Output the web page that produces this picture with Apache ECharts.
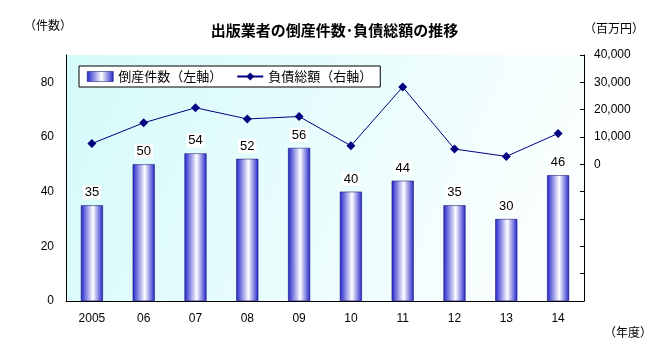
<!DOCTYPE html>
<html>
<head>
<meta charset="utf-8">
<script src="https://cdn.jsdelivr.net/npm/echarts@6/dist/echarts.min.js"></script>
<style>
  html, body { margin: 0; padding: 0; background: #fff; }
  #chart { width: 669px; height: 353px; }
</style>
</head>
<body>
<div id="chart"></div>
<script>
const years = ['2005', '06', '07', '08', '09', '10', '11', '12', '13', '14'];
const bankruptcies = [35, 50, 54, 52, 56, 40, 44, 35, 30, 46];
const debtTotal = [7600, 15200, 20700, 16600, 17500, 6800, 28300, 5600, 2900, 11300];

const font = 'Liberation Sans, Noto Sans CJK JP, sans-serif';
const jpFont = 'Noto Sans CJK JP, sans-serif';

const barGradient = new echarts.graphic.LinearGradient(0, 0, 1, 0, [
  { offset: 0, color: '#2424cc' },
  { offset: 0.55, color: '#ffffff' },
  { offset: 1, color: '#2424cc' }
]);

const chart = echarts.init(document.getElementById('chart'));
chart.setOption({
  animation: false,
  textStyle: { fontFamily: font, color: '#000' },
  title: {
    text: '出版業者の倒産件数･負債総額の推移',
    left: 'center',
    top: 18,
    textStyle: { fontFamily: jpFont, fontSize: 15, fontWeight: 'bold', color: '#000' }
  },
  graphic: [
    { type: 'text', left: 24, top: 19, style: { text: '（件数）', font: '12px ' + jpFont, fill: '#000' } },
    { type: 'text', left: 584, top: 22, style: { text: '（百万円）', font: '12px ' + jpFont, fill: '#000' } },
    { type: 'text', left: 604, top: 326, style: { text: '（年度）', font: '12px ' + jpFont, fill: '#000' } }
  ],
  legend: {
    left: 79,
    top: 66,
    backgroundColor: '#fff',
    borderColor: '#000',
    borderWidth: 1,
    borderRadius: 0,
    padding: [4, 8, 4, 8],
    itemGap: 14,
    itemWidth: 26,
    itemHeight: 10,
    textStyle: { fontFamily: jpFont, fontSize: 13, color: '#000' },
    data: [
      { name: '倒産件数（左軸）', icon: 'rect', itemStyle: { color: barGradient, borderColor: '#000060', borderWidth: 0.5 } },
      { name: '負債総額（右軸）' }
    ]
  },
  grid: {
    left: 66, right: 85, top: 55, bottom: 52,
    show: true,
    borderWidth: 0,
    backgroundColor: new echarts.graphic.LinearGradient(0, 0, 1, 1, [
      { offset: 0, color: '#d4fafa' },
      { offset: 1, color: '#ffffff' }
    ])
  },
  xAxis: {
    type: 'category',
    data: years,
    axisLine: { lineStyle: { color: '#000' } },
    axisTick: { inside: true, length: 4, lineStyle: { color: '#000' } },
    axisLabel: { fontSize: 12, color: '#000', margin: 12 }
  },
  yAxis: [
    {
      type: 'value',
      min: 0, max: 90, interval: 20,
      splitLine: { show: false },
      axisLine: { show: true, lineStyle: { color: '#000' } },
      axisTick: { show: false },
      axisLabel: {
        fontSize: 12, color: '#000', margin: 12,
        formatter: v => (v % 20 === 0 && v <= 80) ? v : ''
      }
    },
    {
      type: 'value',
      min: -50000, max: 40000, interval: 10000,
      position: 'right',
      splitLine: { show: false },
      axisLine: { show: true, lineStyle: { color: '#000' } },
      axisTick: { show: true, inside: true, length: 4, lineStyle: { color: '#000' } },
      axisLabel: {
        fontSize: 12, color: '#000', margin: 10,
        formatter: v => v >= 0 ? v.toLocaleString('en-US') : ''
      }
    }
  ],
  series: [
    {
      name: '倒産件数（左軸）',
      type: 'bar',
      yAxisIndex: 0,
      data: bankruptcies,
      barWidth: 22,
      itemStyle: { color: barGradient, borderColor: '#000060', borderWidth: 0.5 },
      label: {
        show: true,
        position: 'top',
        distance: 6,
        fontSize: 13,
        color: '#000',
        backgroundColor: '#fff',
        padding: [1, 2, 0, 2]
      }
    },
    {
      name: '負債総額（右軸）',
      type: 'line',
      yAxisIndex: 1,
      data: debtTotal,
      symbol: 'diamond',
      symbolSize: 9,
      lineStyle: { color: '#000080', width: 1 },
      itemStyle: { color: '#000080' }
    }
  ]
});
</script>
</body>
</html>
